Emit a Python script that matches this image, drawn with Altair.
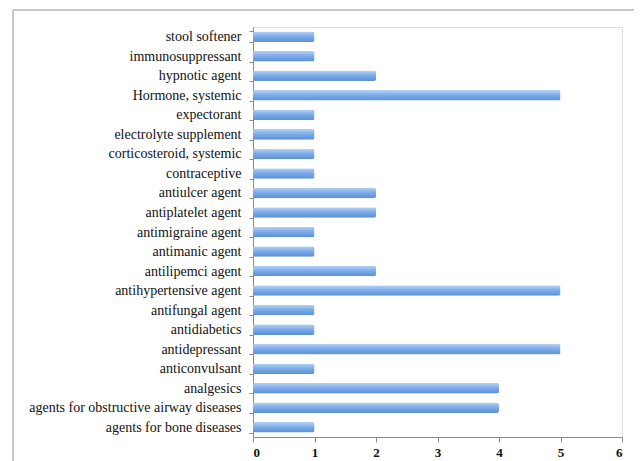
import altair as alt
import pandas as pd

categories = [
    "stool softener", "immunosuppressant", "hypnotic agent", "Hormone, systemic",
    "expectorant", "electrolyte supplement", "corticosteroid, systemic", "contraceptive",
    "antiulcer agent", "antiplatelet agent", "antimigraine agent", "antimanic agent",
    "antilipemci agent", "antihypertensive agent", "antifungal agent", "antidiabetics",
    "antidepressant", "anticonvulsant", "analgesics",
    "agents for obstructive airway diseases", "agents for bone diseases",
]
counts = [1, 1, 2, 5, 1, 1, 1, 1, 2, 2, 1, 1, 2, 5, 1, 1, 5, 1, 4, 4, 1]

df = pd.DataFrame({"category": categories, "count": counts})

W, H = 369, 410
FONT = "Liberation Serif"

grad = alt.Gradient(
    gradient="linear", x1=0, x2=0, y1=0, y2=1,
    stops=[
        alt.GradientStop(color="#b7d3f4", offset=0),
        alt.GradientStop(color="#7eaeea", offset=0.45),
        alt.GradientStop(color="#5b8fd6", offset=1),
    ],
)

frame = alt.Chart(df).mark_rect(
    filled=False, stroke="#c8c8c8", strokeWidth=1, clip=False
).encode(
    x=alt.value(-240), x2=alt.value(384), y=alt.value(-17), y2=alt.value(480)
)

bars = alt.Chart(df).mark_bar(color=grad, cornerRadius=2).encode(
    y=alt.Y(
        "category:N", sort=categories, title=None,
        scale=alt.Scale(paddingInner=0.46, paddingOuter=0.23),
        axis=alt.Axis(
            tickBand="extent", tickSize=4, tickColor="#8a8a8a",
            domainColor="#8a8a8a", labelFont=FONT, labelFontSize=14,
            labelColor="#111111", labelPadding=8, labelLimit=300,
        ),
    ),
    x=alt.X(
        "count:Q", title=None,
        scale=alt.Scale(domain=[0, 6], nice=False),
        axis=alt.Axis(
            values=[0, 1, 2, 3, 4, 5, 6], format="d", grid=False,
            tickSize=5, tickColor="#8a8a8a", domainColor="#8a8a8a",
            labelFont=FONT, labelFontSize=13, labelColor="#111111",
            labelFontWeight="bold", labelPadding=4,
        ),
    ),
)

chart = alt.layer(frame, bars).properties(
    width=W, height=H,
    padding={"left": 245, "top": 19, "right": 12, "bottom": 40},
    autosize=alt.AutoSizeParams(type="none"),
).configure_view(stroke=None).configure(background="white")

chart.save("out.html", embed_options={"renderer": "svg", "actions": False})
